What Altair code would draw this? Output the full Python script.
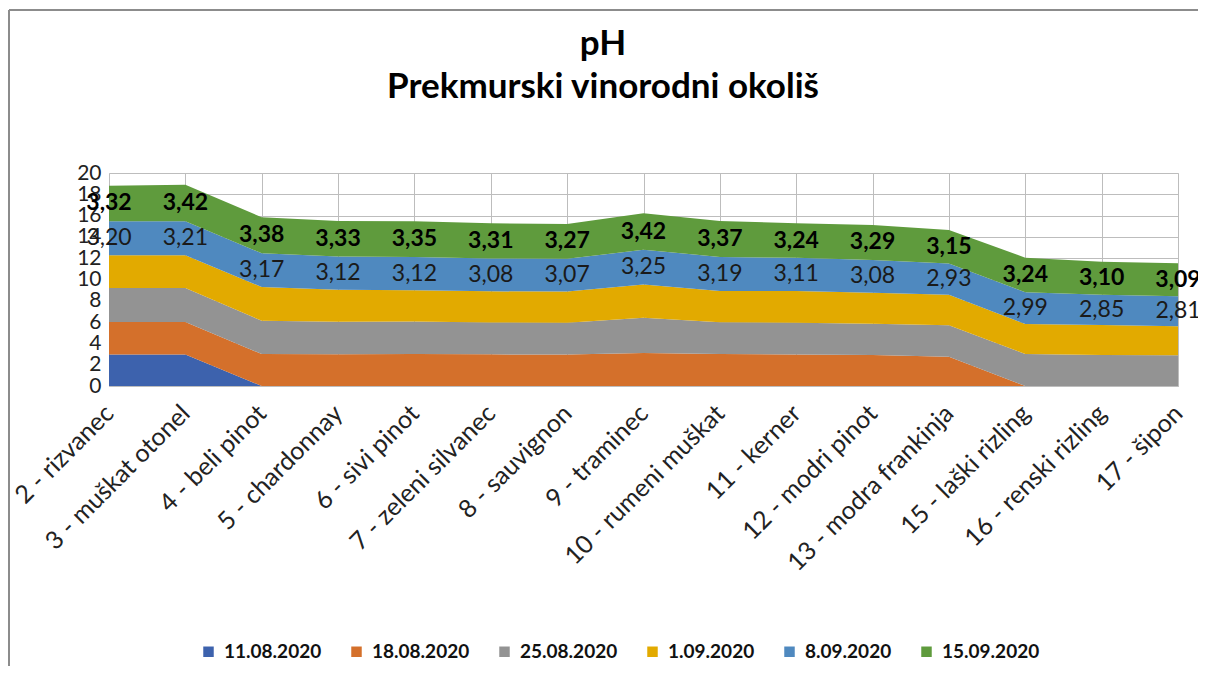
import altair as alt
import pandas as pd

categories = ["2 - rizvanec", "3 - muškat otonel", "4 - beli pinot", "5 - chardonnay",
              "6 - sivi pinot", "7 - zeleni silvanec", "8 - sauvignon", "9 - traminec",
              "10 - rumeni muškat", "11 - kerner", "12 - modri pinot", "13 - modra frankinja",
              "15 - laški rizling", "16 - renski rizling", "17 - šipon"]
series = ["11.08.2020", "18.08.2020", "25.08.2020", "1.09.2020", "8.09.2020", "15.09.2020"]
colors = ["#3D62AD", "#D4702B", "#939393", "#E2AA00", "#4F89BF", "#5F9B3D"]
title_lines = ["pH", "Prekmurski vinorodni okoliš"]
y_ticks = [0, 2, 4, 6, 8, 10, 12, 14, 16, 18, 20]

ph_1108 = [2.95, 2.95, 0, 0, 0, 0, 0, 0, 0, 0, 0, 0, 0, 0, 0]
ph_1808 = [3.05, 3.05, 3.00, 2.98, 3.00, 2.97, 2.95, 3.10, 3.00, 2.95, 2.90, 2.75, 0, 0, 0]
ph_2508 = [3.20, 3.20, 3.12, 3.06, 3.05, 3.00, 3.00, 3.30, 2.98, 3.00, 2.95, 2.95, 3.00, 2.90, 2.88]
ph_0109 = [3.08, 3.07, 3.17, 3.00, 2.95, 2.92, 2.92, 3.14, 2.95, 2.98, 2.90, 2.87, 2.82, 2.82, 2.74]
ph_0809 = [3.20, 3.21, 3.17, 3.12, 3.12, 3.08, 3.07, 3.25, 3.19, 3.11, 3.08, 2.93, 2.99, 2.85, 2.81]
ph_1509 = [3.32, 3.42, 3.38, 3.33, 3.35, 3.31, 3.27, 3.42, 3.37, 3.24, 3.29, 3.15, 3.24, 3.10, 3.09]

all_series = [ph_1108, ph_1808, ph_2508, ph_0109, ph_0809, ph_1509]

rows = []
for ci, cat in enumerate(categories):
    base = 0.0
    for si, name in enumerate(series):
        v = all_series[si][ci]
        rows.append({"cat": cat, "series": name, "idx": si, "value": v,
                     "mid": base + v / 2, "label": f"{v:.2f}".replace(".", ",")})
        base += v
df = pd.DataFrame(rows)

FONT = "Lato"
W, H = 1069, 213

x_axis = alt.Axis(title=None, labelAngle=-45, labelAlign="right", labelBaseline="middle",
                  labelFontSize=25, labelFont=FONT, labelColor="#222222", labelPadding=23,
                  labelLimit=600, grid=True, gridColor="#BDBDBD", domainColor="#BDBDBD",
                  ticks=False, labelOverlap=False)
y_axis = alt.Axis(title=None, values=y_ticks, grid=True, gridColor="#BDBDBD",
                  domain=False, ticks=False, labelFontSize=21, labelFont=FONT,
                  labelColor="#222222", labelPadding=8, labelOverlap=False, labelFlush=False)
x_scale = alt.Scale(type="point", padding=0)
y_scale = alt.Scale(domain=[0, 20], nice=False, zero=True)

area = alt.Chart(df).mark_area(opacity=1).encode(
    x=alt.X("cat:N", sort=categories, scale=x_scale, axis=x_axis),
    y=alt.Y("value:Q", stack="zero", scale=y_scale, axis=y_axis),
    color=alt.Color("series:N", sort=series,
                    scale=alt.Scale(domain=series, range=colors),
                    legend=alt.Legend(title=None, orient="none", direction="horizontal",
                                      legendX=90, legendY=469, symbolType="square",
                                      symbolSize=110, symbolStrokeWidth=0,
                                      labelFontSize=19, labelFont=FONT, labelFontWeight="bold",
                                      labelColor="#111111", columnPadding=25, labelOffset=6)),
    order=alt.Order("idx:Q", sort="ascending"),
)

lbl_blue = alt.Chart(df[df["series"] == "8.09.2020"]).mark_text(
    fontSize=23, font=FONT, color="#1a1a1a", baseline="middle", align="center"
).encode(x=alt.X("cat:N", sort=categories, scale=x_scale, axis=x_axis),
         y=alt.Y("mid:Q", scale=y_scale, axis=y_axis), text="label:N")

lbl_green = alt.Chart(df[df["series"] == "15.09.2020"]).mark_text(
    fontSize=23, font=FONT, fontWeight="bold", color="#000000", baseline="middle", align="center"
).encode(x=alt.X("cat:N", sort=categories, scale=x_scale, axis=x_axis),
         y=alt.Y("mid:Q", scale=y_scale, axis=y_axis), text="label:N")

tdf = pd.DataFrame({"t": title_lines, "line": [0, 1]})
title1 = alt.Chart(tdf[tdf["line"] == 0]).mark_text(
    fontSize=35, font=FONT, fontWeight="bold", color="#000000", baseline="middle", align="center"
).encode(text="t:N", x=alt.value(494), y=alt.value(-129))
title2 = alt.Chart(tdf[tdf["line"] == 1]).mark_text(
    fontSize=35, font=FONT, fontWeight="bold", color="#000000", baseline="middle", align="center"
).encode(text="t:N", x=alt.value(494), y=alt.value(-86))

one = pd.DataFrame({"a": [0]})
border_left = alt.Chart(one).mark_rule(color="#8C8C8C", strokeWidth=2).encode(
    x=alt.value(-100), y=alt.value(-163), y2=alt.value(520))
border_top = alt.Chart(one).mark_rule(color="#8C8C8C", strokeWidth=2).encode(
    x=alt.value(-100), x2=alt.value(1100), y=alt.value(-163))

chart = alt.layer(area, lbl_blue, lbl_green, title1, title2, border_left, border_top).properties(
    width=W, height=H,
    autosize=alt.AutoSizeParams(type="none"),
    padding={"left": 101, "top": 165, "right": 20, "bottom": 280},
).configure_view(stroke=None).configure_axisY(labelOverlap=False).configure(background="white")

chart.save("out.html", embed_options={"renderer": "svg", "actions": False})
